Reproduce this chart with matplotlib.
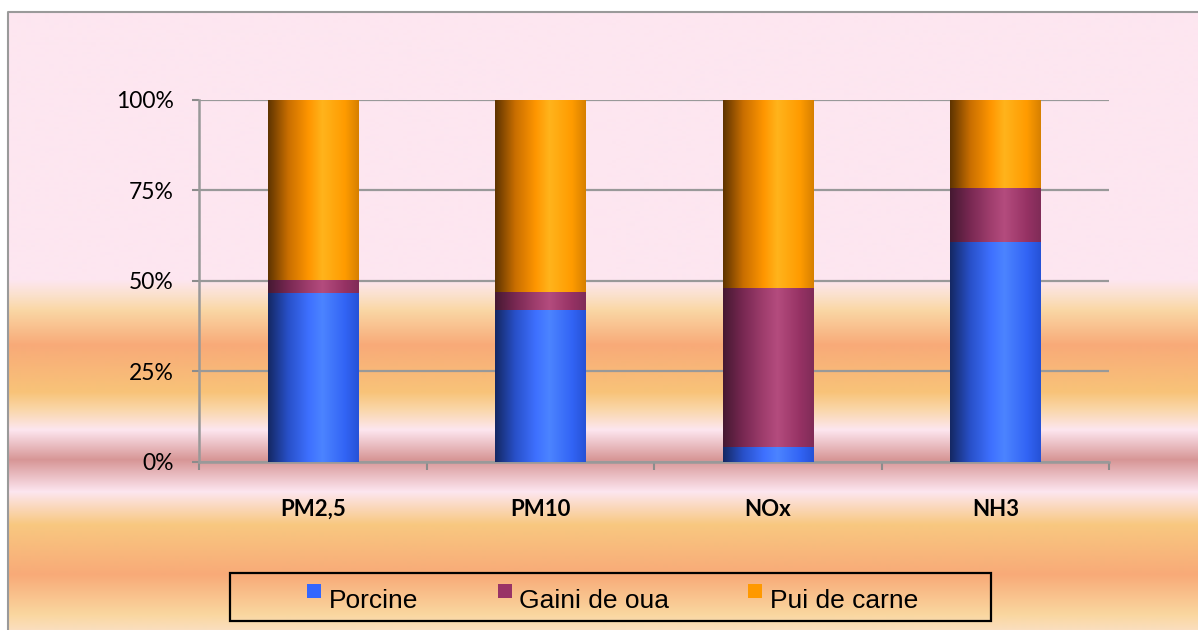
import numpy as np
import matplotlib
matplotlib.use("Agg")
import matplotlib.pyplot as plt
from matplotlib.patches import Rectangle, Patch
from matplotlib.legend_handler import HandlerPatch

# emission shares (%) per pollutant
categories = ["PM2,5", "PM10", "NOx", "NH3"]
porcine = [46.6, 42.0, 4.1, 60.8]
gaini = [3.7, 4.9, 44.0, 14.8]
pui = [49.7, 53.1, 51.9, 24.4]
series_names = ["Porcine", "Gaini de oua", "Pui de carne"]
yticks = [0, 25, 50, 75, 100]
ytick_labels = ["0%", "25%", "50%", "75%", "100%"]

base_colors = ["#3366FF", "#993366", "#FF9900"]
# left-to-right shading of the cylinder-like bars
shades = [
    [(20, 40, 100), (40, 80, 200), (62, 112, 255), (76, 132, 255), (50, 100, 245), (38, 82, 215)],
    [(70, 25, 50), (120, 40, 82), (160, 62, 110), (180, 76, 126), (150, 50, 100), (128, 44, 88)],
    [(95, 52, 0), (200, 110, 0), (255, 150, 0), (255, 180, 28), (255, 155, 0), (215, 128, 0)],
]
shade_pos = [0.0, 0.22, 0.45, 0.6, 0.85, 1.0]

W, H = 1198, 630
fig = plt.figure(figsize=(W / 100, H / 100), dpi=100)
fig.patch.set_facecolor("white")

# background gradient (pixel coords)
bg = fig.add_axes([0, 0, 1, 1], zorder=-1)
bg.axis("off")
stops_y = [0, 280, 295, 310, 345, 392, 410, 430, 460, 492, 525, 575, 615, 630]
stops_c = np.array([
    (253, 230, 240), (253, 230, 240), (251, 225, 205), (250, 215, 165), (248, 170, 120),
    (248, 195, 120), (250, 215, 170), (253, 230, 240), (215, 150, 150), (253, 230, 240),
    (248, 200, 128), (248, 170, 120), (250, 215, 160), (250, 222, 190)]) / 255.0
rows = np.arange(12, H + 1)
grad = np.stack([np.interp(rows, stops_y, stops_c[:, k]) for k in range(3)], axis=1)
bg.imshow(grad[:, None, :], extent=(8, W, H, 12), aspect="auto", interpolation="bilinear")
bg.plot([8, 8, W], [H, 12, 12], color="#9a9a9a", lw=1.5)
bg.set_xlim(0, W)
bg.set_ylim(H, 0)

ax = fig.add_axes([199 / W, 1 - 461.7 / H, 910 / W, 361.7 / H])
ax.set_facecolor("none")

x = np.arange(len(categories))
width = 0.396
bottom = np.zeros(len(categories))
for vals, base, sh in zip([porcine, gaini, pui], base_colors, shades):
    cols = np.array(sh) / 255.0
    t = np.linspace(0, 1, 120)
    strip = np.stack([np.interp(t, shade_pos, cols[:, k]) for k in range(3)], axis=1)
    bars = ax.bar(x, vals, width, bottom=bottom, color=base, edgecolor="none", zorder=3)
    for b in bars:
        x0, y0 = b.get_x(), b.get_y()
        im = ax.imshow(strip[None, :, :], extent=(x0, x0 + b.get_width(), y0, y0 + b.get_height()),
                       aspect="auto", interpolation="bilinear", zorder=4)
        im.set_clip_path(b)
    bottom += np.array(vals)

ax.set_xlim(-0.5, len(categories) - 0.5)
ax.set_ylim(0, 100)
ax.set_yticks(yticks)
ax.set_yticklabels(ytick_labels, fontsize=16.5, family="Lato")
ax.set_xticks(x)
ax.set_xticklabels(categories, fontsize=16, family="Lato", fontweight="bold")
ax.set_xticks(np.arange(len(categories) + 1) - 0.5, minor=True)
ax.tick_params(axis="x", which="major", length=0, pad=27)
ax.tick_params(axis="x", which="minor", length=6, width=1.5, color="#8c8c8c")
ax.tick_params(axis="y", length=5, width=1.5, color="#8c8c8c", pad=13)
ax.grid(axis="y", color="#999999", lw=1.6, zorder=1)
ax.set_axisbelow(True)
for s in ["top", "right"]:
    ax.spines[s].set_visible(False)
for s in ["left", "bottom"]:
    ax.spines[s].set_color("#999999")
    ax.spines[s].set_linewidth(1.8)


# legend squares sit high, level with the top of the text
def raised_square(legend, orig_handle, xdescent, ydescent, width, height, fontsize):
    return Rectangle((-xdescent, -ydescent + 0.3 * fontsize), width, height)


handles = [Patch(facecolor=c, edgecolor="none") for c in base_colors]
fig.legend(handles, series_names, loc="center", bbox_to_anchor=(0.5115, 0.046), ncol=3,
           frameon=False, prop={"family": "Liberation Sans", "size": 19},
           handlelength=0.53, handleheight=0.45, handletextpad=0.29, columnspacing=3.0,
           handler_map={Patch: HandlerPatch(patch_func=raised_square)})
fig.patches.append(Rectangle((230 / W, 1 - 620.7 / H), 761 / W, 48 / H, transform=fig.transFigure,
                             fill=False, edgecolor="black", lw=1.6))

fig.savefig("out.png", dpi=100)
